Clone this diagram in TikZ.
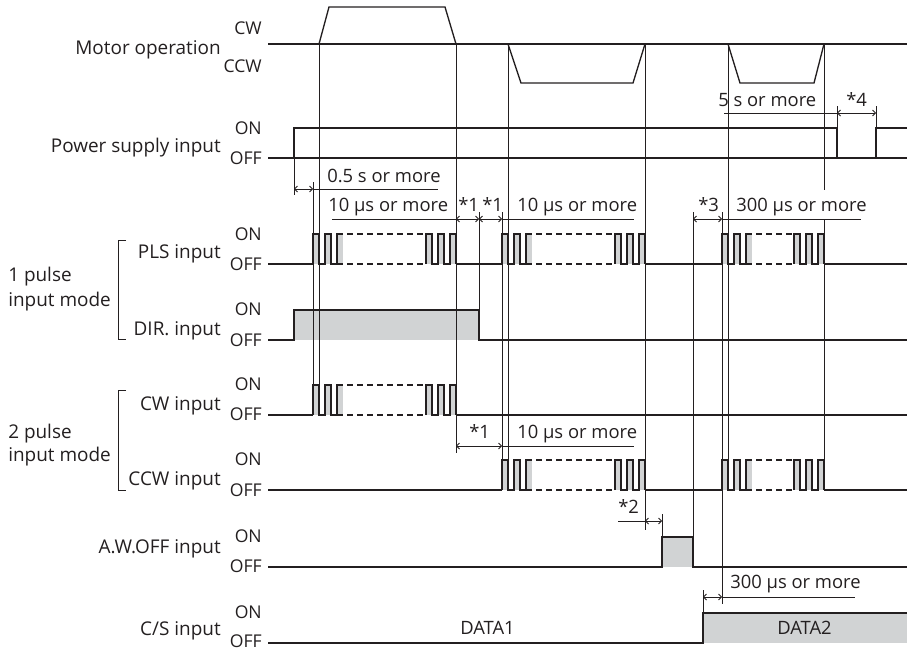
\documentclass[tikz,border=0pt]{standalone}
\usepackage{fontspec}
\setmainfont{Open Sans}
\usetikzlibrary{arrows.meta}
\definecolor{ink}{HTML}{231F20}
\definecolor{shade}{HTML}{D1D3D4}
\tikzset{
  sig/.style={line width=1pt, draw=ink},
  guide/.style={line width=0.6pt, draw=ink},
  dimline/.style={line width=0.6pt, draw=ink},
  dimarr/.style={line width=0.6pt, draw=ink, {Straight Barb[length=2.2pt,width=4.5pt]}-{Straight Barb[length=2.2pt,width=4.5pt]}},
  dashsig/.style={sig, dash pattern=on 4.5pt off 3pt},
  lbl/.style={font=\fontsize{14.2}{16}\selectfont, text=ink, inner sep=0pt},
  dlbl/.style={font=\fontsize{13.8}{16}\selectfont, text=ink, inner sep=0pt, anchor=base west},
  stl/.style={font=\fontsize{13.2}{14}\selectfont, text=ink, inner sep=0pt, anchor=base east},
  gfill/.style={fill=shade, draw=none}
}
% pulse group: #1 start x, #2 end x, #3 top y, #4 bottom y
\newcommand\pgrp[4]{%
  \foreach \a in {0,12,24}{\path[gfill] ({#1+\a},#3) rectangle ({#1+\a+6},#4);}
  \foreach \a in {30,18,6}{\path[gfill] ({#2-\a},#3) rectangle ({#2-\a+6},#4);}
  \draw[sig] (#1,#4) -- (#1,#3) -- ({#1+6},#3) -- ({#1+6},#4) -- ({#1+12},#4) -- ({#1+12},#3) -- ({#1+18},#3) -- ({#1+18},#4) -- ({#1+24},#4) -- ({#1+24},#3) -- ({#1+30},#3);
  \draw[sig] ({#1+24},#4) -- ({#1+30},#4);
  \draw[dashsig] ({#1+34},#3) -- ({#2-32},#3);
  \draw[dashsig] ({#1+34},#4) -- ({#2-32},#4);
  \draw[sig] ({#2-30},#4) -- ({#2-30},#3) -- ({#2-24},#3) -- ({#2-24},#4) -- ({#2-18},#4) -- ({#2-18},#3) -- ({#2-12},#3) -- ({#2-12},#4) -- ({#2-6},#4) -- ({#2-6},#3) -- (#2,#3) -- (#2,#4);
}
\begin{document}
\begin{tikzpicture}[x=0.75pt,y=-0.75pt]
\path[use as bounding box] (0,0) rectangle (910,650);

% ---------- gray fills ----------
\path[gfill] (294,310) rectangle (479,340);
\path[gfill] (662,537) rectangle (693,567);
\path[gfill] (703,613) rectangle (907,643);

% ---------- guide lines ----------
\draw[guide] (294,158) -- (294,195);
\draw[guide] (313,182) -- (313,385);
\draw[guide] (319,44) -- (319,385);
\draw[guide] (456,44) -- (456,453);
\draw[guide] (479,212) -- (479,310);
\draw[guide] (502,212) -- (502,460);
\draw[guide] (508,44) -- (508,460);
\draw[guide] (645,44) -- (645,530);
\draw[guide] (662,514) -- (662,537);
\draw[guide] (693,212) -- (693,537);
\draw[guide] (703,590) -- (703,613);
\draw[guide] (722,212) -- (722,604);
\draw[guide] (728,44) -- (728,460);
\draw[guide] (824,44) -- (824,190);
\draw[guide] (824,219) -- (824,460);
\draw[guide] (837,106) -- (837,128);
\draw[guide] (876,106) -- (876,128);

% ---------- brackets ----------
\draw[guide] (126,240) -- (118,240) -- (118,339) -- (126,339);
\draw[guide] (126,390) -- (118,390) -- (118,490) -- (126,490);

% ---------- motor operation ----------
\draw[sig] (268,44) -- (907,44);
\draw[sig] (319,44) -- (329,7) -- (445,7) -- (456,44);
\draw[sig] (508,44) -- (521,83) -- (633,83) -- (645,44);
\draw[sig] (728,44) -- (740,83) -- (814,83) -- (824,44);

% ---------- power supply ----------
\draw[sig] (268,158) -- (907,158);
\draw[sig] (294,158) -- (294,128) -- (837,128) -- (837,158);
\draw[sig] (876,158) -- (876,128) -- (907,128);

% ---------- PLS ----------
\draw[sig] (268,264) -- (313,264);
\pgrp{313}{456}{234}{264}
\draw[sig] (456,264) -- (502,264);
\pgrp{502}{645}{234}{264}
\draw[sig] (645,264) -- (722,264);
\pgrp{722}{824}{234}{264}
\draw[sig] (824,264) -- (907,264);

% ---------- DIR ----------
\draw[sig] (268,340) -- (294,340) -- (294,310) -- (479,310) -- (479,340) -- (907,340);

% ---------- CW ----------
\draw[sig] (268,415) -- (313,415);
\pgrp{313}{456}{385}{415}
\draw[sig] (456,415) -- (907,415);

% ---------- CCW ----------
\draw[sig] (268,490) -- (502,490);
\pgrp{502}{645}{460}{490}
\draw[sig] (645,490) -- (722,490);
\pgrp{722}{824}{460}{490}
\draw[sig] (824,490) -- (907,490);

% ---------- A.W.OFF ----------
\draw[sig] (268,567) -- (662,567) -- (662,537) -- (693,537) -- (693,567) -- (907,567);

% ---------- C/S ----------
\draw[sig] (268,643) -- (703,643) -- (703,613) -- (907,613);

% ---------- dimensions ----------
\draw[dimarr] (294,189) -- (313,189);
\draw[dimline] (313,189) -- (438,189);
\draw[dimline] (332,219) -- (456,219);
\draw[dimarr] (456,219) -- (479,219);
\draw[dimarr] (479,219) -- (502,219);
\draw[dimline] (502,219) -- (634,219);
\draw[dimarr] (693,219) -- (722,219);
\draw[dimline] (722,219) -- (861,219);
\draw[dimline] (724,113) -- (837,113);
\draw[dimarr] (837,113) -- (876,113);
\draw[dimarr] (456,446) -- (502,446);
\draw[dimline] (502,446) -- (634,446);
\draw[dimline] (618,521) -- (645,521);
\draw[dimarr] (645,521) -- (662,521);
\draw[dimarr] (703,597) -- (722,597);
\draw[dimline] (722,597) -- (855,597);

% ---------- labels ----------
\node[lbl,anchor=base east] (tmotor) at (221,54) {Motor operation};
\node[lbl,anchor=base east] (tpower) at (221,152) {Power supply input};
\node[lbl,anchor=base east] (tpls) at (221,258) {PLS input};
\node[lbl,anchor=base east] (tdir) at (221,335) {DIR. input};
\node[lbl,anchor=base east] (tcw) at (221,410) {CW input};
\node[lbl,anchor=base east] (tccw) at (221,485) {CCW input};
\node[lbl,anchor=base east] (taw) at (221,553) {A.W.OFF input};
\node[lbl,anchor=base east] (tcs) at (221,635) {C/S input};
\node[lbl,anchor=base west] (m1a) at (8,281) {1 pulse};
\node[lbl,anchor=base west] (m1b) at (8,306) {input mode};
\node[lbl,anchor=base west] (m2a) at (8,438) {2 pulse};
\node[lbl,anchor=base west] (m2b) at (8,461) {input mode};

\node[stl] (s1) at (262,34) {CW};
\node[stl] (s2) at (262,72) {CCW};
\node[stl] (s3) at (262,134) {ON};
\node[stl] (s4) at (262,164) {OFF};
\node[stl] (s5) at (262,240) {ON};
\node[stl] (s6) at (262,270) {OFF};
\node[stl] (s7) at (262,315) {ON};
\node[stl] (s8) at (262,346) {OFF};
\node[stl] (s9) at (262,390) {ON};
\node[stl] (s10) at (262,420) {OFF};
\node[stl] (s11) at (262,465) {ON};
\node[stl] (s12) at (262,496) {OFF};
\node[stl] (s13) at (262,542) {ON};
\node[stl] (s14) at (262,572) {OFF};
\node[stl] (s15) at (262,618) {ON};
\node[stl] (s16) at (262,647) {OFF};

\node[dlbl] (d1) at (327,182) {0.5 s or more};
\node[dlbl] (d2) at (328,211) {10 µs or more};
\node[dlbl] (d3) at (458,211) {*1};
\node[dlbl] (d4) at (482,211) {*1};
\node[dlbl] (d5) at (517,211) {10 µs or more};
\node[dlbl] (d6) at (698,211) {*3};
\node[dlbl] (d7) at (736,211) {300 µs or more};
\node[dlbl] (d8) at (718,106) {5 s or more};
\node[dlbl] (d9) at (846,106) {*4};
\node[dlbl] (d10) at (469,438) {*1};
\node[dlbl] (d11) at (517,438) {10 µs or more};
\node[dlbl] (d12) at (618,513) {*2};
\node[dlbl] (d13) at (730,588) {300 µs or more};
\node[dlbl] (d14) at (460,634) {DATA1};
\node[dlbl] (d15) at (777,634) {DATA2};
\end{tikzpicture}
\end{document}
